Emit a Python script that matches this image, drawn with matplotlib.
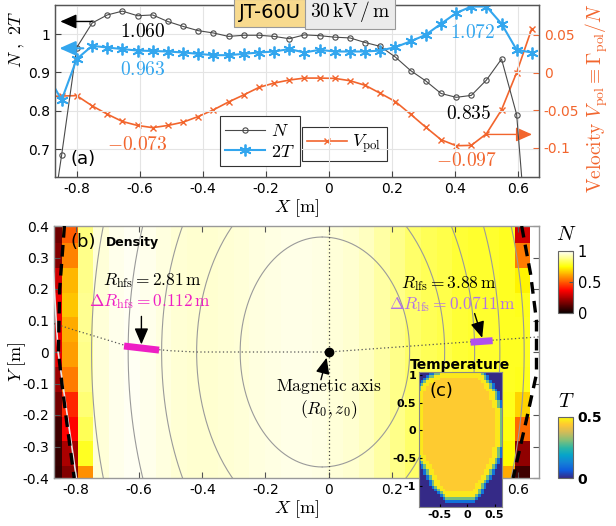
import numpy as np
import matplotlib
matplotlib.use("Agg")
import matplotlib.pyplot as plt
from matplotlib.colors import LinearSegmentedColormap, Normalize
from matplotlib.cm import ScalarMappable
from matplotlib.path import Path

plt.rcParams["font.family"] = ["DejaVu Sans"]
plt.rcParams["mathtext.fontset"] = "cm"
plt.rcParams["axes.unicode_minus"] = False

# ---------------- midplane profiles (panel a) ----------------
x_mid = [-0.897, -0.849, -0.801, -0.752, -0.704, -0.656, -0.608, -0.560, -0.512,
         -0.463, -0.415, -0.367, -0.319, -0.271, -0.222, -0.174, -0.126, -0.078,
         -0.030, 0.018, 0.067, 0.115, 0.163, 0.211, 0.259, 0.307, 0.356, 0.404,
         0.452, 0.500, 0.548, 0.596, 0.644]
dens_N = [0.42, 0.684, 0.965, 1.029, 1.050, 1.060, 1.048, 1.050, 1.033, 1.020,
          1.009, 1.003, 0.994, 0.997, 0.997, 0.994, 0.988, 0.998, 0.996, 0.992,
          0.990, 0.978, 0.968, 0.940, 0.905, 0.878, 0.845, 0.835, 0.840, 0.880,
          0.935, 0.790, 0.300]
temp_2T = [0.898, 0.828, 0.935, 0.9695, 0.965, 0.961, 0.957, 0.956, 0.9546, 0.952,
           0.9485, 0.945, 0.945, 0.9485, 0.952, 0.9546, 0.961, 0.952, 0.959, 0.9546,
           0.9546, 0.9546, 0.957, 0.966, 0.981, 0.998, 1.027, 1.055, 1.072, 1.072,
           1.027, 0.959, 0.952]
vel_pol = [-0.032, -0.031, -0.0305, -0.0441, -0.0551, -0.0648, -0.0701, -0.073,
           -0.0701, -0.0657, -0.0582, -0.0494, -0.0389, -0.0296, -0.0195, -0.0138,
           -0.0098, -0.0072, -0.0072, -0.0076, -0.0107, -0.0168, -0.0274, -0.0384,
           -0.0551, -0.0723, -0.089, -0.097, -0.0965, -0.0811, -0.0494, 0.0001, 0.0584]

# ---------------- density map (panel b) ----------------
col_edges = np.linspace(-0.894, 0.6394, 32)     # 31 cells in X
row_edges_top_down = np.linspace(0.424, -0.4406, 12)  # 11 cells in Y
dens_interior = [0.96, 0.98, 0.985, 0.98, 0.965, 0.955, 0.95, 0.95, 0.955, 0.96,
                 0.965, 0.97, 0.975, 0.975, 0.97, 0.96, 0.95, 0.935, 0.91, 0.88,
                 0.85, 0.83, 0.82, 0.80, 0.79, 0.79, 0.78]   # columns 3..29
# edge columns, rows listed top to bottom
dens_col0 = [0.15, 0.18, 0.30, 0.34, 0.34, 0.33, 0.22, 0.16, 0.08, 0.07, 0.06]
dens_col1 = [0.50, 0.56, 0.64, 0.66, 0.62, 0.60, 0.55, 0.42, 0.37, 0.24, 0.18]
dens_col2 = [0.87, 0.88, 0.88, 0.89, 0.89, 0.88, 0.88, 0.86, 0.83, 0.78, 0.58]
dens_col29 = [0.78, 0.78, 0.78, 0.78, 0.78, 0.78, 0.78, 0.77, 0.76, 0.74, 0.62]
dens_col30 = [0.30, 0.55, 0.73, 0.77, 0.78, 0.78, 0.77, 0.68, 0.52, 0.20, 0.08]

# flux surfaces: apex X, inboard / outboard half widths, half height
surf_x0 = [-0.02, -0.04, -0.06, -0.08, -0.10]
surf_aL = [0.260, 0.378, 0.469, 0.555, 0.651]
surf_aR = [0.277, 0.408, 0.523, 0.623, 0.720]
surf_b = [0.365, 0.56, 0.78, 1.00, 1.20]

# boundary traces
sepL_x = [-0.837, -0.852, -0.856, -0.845, -0.830, -0.806]
sepL_y = [0.40, 0.20, 0.00, -0.10, -0.22, -0.40]
wallL_x = [-0.872, -0.857, -0.828, -0.799]
wallL_y = [0.25, 0.00, -0.20, -0.40]
sepR_x = [0.612, 0.640, 0.659, 0.659, 0.627, 0.585]
sepR_y = [0.40, 0.25, 0.10, -0.07, -0.216, -0.40]
chord_x = [-0.87, -0.80, -0.72, -0.645, -0.59, -0.50, -0.42, 0.0, 0.667]
chord_y = [0.090, 0.068, 0.044, 0.021, 0.012, 0.004, 0.0, 0.0, 0.048]
hfs_bar_x = [-0.648, -0.537]
hfs_bar_y = [0.019, 0.006]
lfs_bar_x = [0.450, 0.520]
lfs_bar_y = [0.031, 0.036]

# ---------------- temperature map (panel c) ----------------
plasma_bx = [-0.50, 0.27, 0.42, 0.54, 0.60, 0.66, 0.66, 0.60, 0.54, 0.45, 0.33,
             0.24, 0.14, -0.40, -0.50, -0.65, -0.745, -0.84, -0.96, -0.96, -0.90,
             -0.72]
plasma_by = [1.08, 1.08, 0.85, 0.67, 0.49, 0.30, -0.20, -0.41, -0.59, -0.77, -0.95,
             -1.13, -1.25, -1.25, -1.13, -0.95, -0.77, -0.59, -0.41, 0.60, 0.80,
             0.95]
t_core, t_rim, t_edge, t_halo = 0.44, 0.475, 0.30, 0.10

# colours
c_N = "#4a4a4a"
c_T = "#33a6ee"
c_V = "#f2652d"
c_mag = "#ee1fc4"
c_pur = "#b050ee"

parula = LinearSegmentedColormap.from_list(
    "parula", ["#352a87", "#0f5cdd", "#1481d6", "#06a4ca", "#2eb7a4",
               "#87bf77", "#d1bb59", "#fec832", "#f9fb0e"])

W, H = 616, 526
fig = plt.figure(figsize=(W / 100, H / 100), dpi=100)


def box(x0, y0, x1, y1):
    return [x0 / W, 1 - y1 / H, (x1 - x0) / W, (y1 - y0) / H]


# ================= panel (a) =================
ax1 = fig.add_axes(box(55, 5, 539, 177))
axr = ax1.twinx()
ax1.set_zorder(axr.get_zorder() + 1)
ax1.patch.set_visible(False)

axr.plot(x_mid, vel_pol, "-", color=c_V, lw=1.2, marker="x", ms=5, mew=1.0,
         label=r"$V_{\rm pol}$")
lN, = ax1.plot(x_mid, dens_N, "-", color=c_N, lw=0.8, marker="o", ms=3.8,
               mfc="none", mew=0.8, label=r"$N$")
lT, = ax1.plot(x_mid, temp_2T, "-", color=c_T, lw=1.5, marker=(6, 2, 0), ms=8.5,
               mew=1.3, label=r"$2T$")

ax1.set_xlim(-0.87, 0.667)
ax1.set_ylim(0.627, 1.076)
axr.set_ylim(-0.1385, 0.0898)
ax1.set_xticks([-0.8, -0.6, -0.4, -0.2, 0, 0.2, 0.4, 0.6])
ax1.set_xticklabels(["-0.8", "-0.6", "-0.4", "-0.2", "0", "0.2", "0.4", "0.6"])
ax1.set_yticks([0.7, 0.8, 0.9, 1.0])
ax1.set_yticklabels(["0.7", "0.8", "0.9", "1"])
axr.set_yticks([-0.1, -0.05, 0, 0.05])
axr.set_yticklabels(["-0.1", "-0.05", "0", "0.05"])
ax1.grid(True, color="#e4e4e4", lw=0.8)
ax1.set_axisbelow(True)
ax1.tick_params(direction="in", labelsize=10, length=4, color="#444444")
axr.tick_params(direction="in", labelsize=10, length=4, colors=c_V)
for sp in list(ax1.spines.values()) + list(axr.spines.values()):
    sp.set_color("#555555")
    sp.set_linewidth(0.9)

ax1.set_xlabel(r"$X\ [\mathrm{m}]$", fontsize=13, labelpad=1)
ax1.set_ylabel(r"$N\ ,\ 2T$", fontsize=13)
ax1.yaxis.set_label_coords(-0.058, 0.80)
axr.set_ylabel(r"$\mathrm{Velocity}\ V_{\rm pol}\equiv\Gamma_{\rm pol}/N$",
               fontsize=14, color=c_V)
axr.yaxis.set_label_coords(1.091, 0.46)

head = "-|>,head_length=0.9,head_width=0.4"
ax1.annotate("", xy=(-0.853, 1.033), xytext=(-0.752, 1.033),
             arrowprops=dict(arrowstyle=head, color="black", lw=1.0,
                             mutation_scale=11, shrinkA=0, shrinkB=0))
ax1.annotate("", xy=(-0.856, 0.963), xytext=(-0.78, 0.963),
             arrowprops=dict(arrowstyle=head, color=c_T, lw=1.5,
                             mutation_scale=11, shrinkA=0, shrinkB=0))
axr.annotate("", xy=(0.645, -0.082), xytext=(0.50, -0.082),
             arrowprops=dict(arrowstyle=head, color=c_V, lw=1.0,
                             mutation_scale=11, shrinkA=0, shrinkB=0))

ax1.text(-0.592, 1.007, r"$1.060$", fontsize=14, ha="center", va="center")
ax1.text(-0.590, 0.907, r"$0.963$", fontsize=14, ha="center", va="center", color=c_T)
ax1.text(-0.608, 0.713, r"$-0.073$", fontsize=14, ha="center", va="center", color=c_V)
ax1.text(0.456, 1.003, r"$1.072$", fontsize=14, ha="center", va="center", color=c_T)
ax1.text(0.444, 0.793, r"$0.835$", fontsize=14, ha="center", va="center")
ax1.text(0.437, 0.669, r"$-0.097$", fontsize=14, ha="center", va="center", color=c_V)
ax1.text(-0.782, 0.674, "(a)", fontsize=13, ha="center", va="center")

leg1 = ax1.legend(handles=[lN, lT], loc="upper left", bbox_to_anchor=(0.341, 0.352),
                  fontsize=13, handlelength=2.2, borderpad=0.3, labelspacing=0.15,
                  handletextpad=0.3, fancybox=False, framealpha=1,
                  edgecolor="#333333", borderaxespad=0)
leg1.get_frame().set_linewidth(0.8)
leg2 = axr.legend(loc="upper left", bbox_to_anchor=(0.510, 0.291), fontsize=13,
                  handlelength=2.2, borderpad=0.3, handletextpad=0.3, fancybox=False,
                  framealpha=1, edgecolor="#333333", borderaxespad=0)
leg2.get_frame().set_linewidth(0.8)

fig.text(270 / W, 1 - 13 / H, "JT-60U", fontsize=14, ha="center", va="center",
         bbox=dict(boxstyle="square,pad=0.25", fc="#f8da8e", ec="#999999", lw=0.8))
fig.text(350 / W, 1 - 12 / H, r"$30\,\mathrm{kV}\,/\,\mathrm{m}$", fontsize=14,
         ha="center", va="center",
         bbox=dict(boxstyle="square,pad=0.25", fc="#ebebeb", ec="#999999", lw=0.8))

# ================= panel (b) =================
ax2 = fig.add_axes(box(54, 226, 539, 478))
ncol = len(col_edges) - 1
nrow = len(row_edges_top_down) - 1
dens = np.empty((nrow, ncol))
dens[:, 3:30] = np.array(dens_interior)[None, :]
dens[:, 0] = dens_col0
dens[:, 1] = dens_col1
dens[:, 2] = dens_col2
dens[:, 29] = dens_col29
dens[:, 30] = dens_col30
ax2.pcolormesh(col_edges, row_edges_top_down[::-1], dens[::-1], cmap="hot",
               vmin=0, vmax=1, zorder=0)

theta = np.linspace(-np.pi / 2, np.pi / 2, 200)
for x0, aL, aR, b in zip(surf_x0, surf_aL, surf_aR, surf_b):
    ax2.plot(x0 + aR * np.cos(theta), b * np.sin(theta), color="#9a9a9a", lw=0.8, zorder=2)
    ax2.plot(x0 - aL * np.cos(theta), b * np.sin(theta), color="#9a9a9a", lw=0.8, zorder=2)

ax2.plot(wallL_x, wallL_y, color="#e8e8e8", lw=1.2, zorder=3)
ax2.plot(sepL_x, sepL_y, color="black", lw=2.4, ls=(0, (3.5, 2.2)), zorder=4)
ax2.plot(sepR_x, sepR_y, color="black", lw=2.4, ls=(0, (3.5, 2.2)), zorder=4)
ax2.plot(chord_x, chord_y, color="#555555", lw=0.9, ls=(0, (1, 2)), zorder=3)
ax2.plot([0, 0], [-0.4, 0.4], color="#444444", lw=0.9, ls=(0, (1, 2)), zorder=3)
ax2.plot(hfs_bar_x, hfs_bar_y, color=c_mag, lw=5, solid_capstyle="butt", zorder=5)
ax2.plot(lfs_bar_x, lfs_bar_y, color=c_pur, lw=5, solid_capstyle="butt", zorder=5)
ax2.plot([0], [0], "o", color="black", ms=6, zorder=6)

arrow_kw = dict(arrowstyle="-|>,head_length=0.7,head_width=0.3", color="black",
                lw=1.0, mutation_scale=14, shrinkA=0, shrinkB=0)
ax2.annotate("", xy=(-0.593, 0.024), xytext=(-0.593, 0.113), arrowprops=arrow_kw, zorder=6)
ax2.annotate("", xy=(0.487, 0.045), xytext=(0.463, 0.122), arrowprops=arrow_kw, zorder=6)
ax2.annotate("", xy=(-0.006, -0.018), xytext=(-0.024, -0.088), arrowprops=arrow_kw, zorder=6)

ax2.text(-0.56, 0.228, r"$R_{\rm hfs}=2.81\,\mathrm{m}$", fontsize=12.5,
         ha="center", va="center", zorder=7)
ax2.text(-0.566, 0.159, r"$\Delta R_{\rm hfs}=0.112\,\mathrm{m}$", fontsize=12.5,
         ha="center", va="center", color=c_mag, zorder=7)
ax2.text(0.379, 0.217, r"$R_{\rm lfs}=3.88\,\mathrm{m}$", fontsize=12.5,
         ha="center", va="center", zorder=7)
ax2.text(0.392, 0.153, r"$\Delta R_{\rm lfs}=0.0711\,\mathrm{m}$", fontsize=12.5,
         ha="center", va="center", color="#b273e6", zorder=7)
ax2.text(0.0, -0.108, r"$\mathrm{Magnetic\ axis}$", fontsize=12.5, ha="center",
         va="center", zorder=7)
ax2.text(0.0, -0.182, r"$(R_0,z_0)$", fontsize=12.5, ha="center", va="center", zorder=7)
ax2.text(-0.778, 0.349, "(b)", fontsize=13, ha="center", va="center", zorder=7)
ax2.text(-0.706, 0.349, "Density", fontsize=9, fontweight="bold", ha="left",
         va="center", zorder=7)

ax2.set_xlim(-0.87, 0.667)
ax2.set_ylim(-0.4, 0.4)
ax2.set_xticks([-0.8, -0.6, -0.4, -0.2, 0, 0.2, 0.4, 0.6])
ax2.set_xticklabels(["-0.8", "-0.6", "-0.4", "-0.2", "0", "0.2", "0.4", "0.6"])
yt = [-0.4, -0.3, -0.2, -0.1, 0, 0.1, 0.2, 0.3, 0.4]
ax2.set_yticks(yt)
ax2.set_yticklabels(["-0.4", "-0.3", "-0.2", "-0.1", "0", "0.1", "0.2", "0.3", "0.4"])
ax2.tick_params(direction="in", labelsize=10, length=4, top=True, right=True,
                color="#555555")
for sp in ax2.spines.values():
    sp.set_color("#999999")
    sp.set_linewidth(1.0)
ax2.set_xlabel(r"$X\ [\mathrm{m}]$", fontsize=13, labelpad=1)
ax2.set_ylabel(r"$Y\ [\mathrm{m}]$", fontsize=13)
ax2.yaxis.set_label_coords(-0.054, 0.46)

# colour bars
caxN = fig.add_axes(box(558, 251, 573, 313))
cbN = fig.colorbar(ScalarMappable(Normalize(0, 1), "hot"), cax=caxN, ticks=[0, 0.5, 1])
cbN.ax.set_yticklabels(["0", "0.5", "1"])
cbN.ax.tick_params(labelsize=10.5, length=3, direction="in", color="#555555")
cbN.outline.set_edgecolor("#666666")
fig.text(566 / W, 1 - 234 / H, r"$N$", fontsize=15, ha="center", va="center")

caxT = fig.add_axes(box(558, 417, 573, 478))
cbT = fig.colorbar(ScalarMappable(Normalize(0, 0.5), parula), cax=caxT, ticks=[0, 0.5])
cbT.ax.set_yticklabels(["0", "0.5"], fontweight="bold")
cbT.ax.tick_params(labelsize=10, length=3, direction="in", color="#555555")
cbT.outline.set_edgecolor("#666666")
fig.text(566 / W, 1 - 401 / H, r"$T$", fontsize=15, ha="center", va="center")

# ================= panel (c) inset =================
axc = fig.add_axes(box(419, 372, 502, 507))
gx = np.arange(-1.025, 0.76, 0.05)
gy = np.arange(-1.425, 1.16, 0.05)
GX, GY = np.meshgrid(gx, gy)
inside = Path(np.column_stack([plasma_bx, plasma_by])).contains_points(
    np.column_stack([GX.ravel(), GY.ravel()])).reshape(GX.shape)


def erode(m):
    e = m.copy()
    e[1:, :] &= m[:-1, :]
    e[:-1, :] &= m[1:, :]
    e[:, 1:] &= m[:, :-1]
    e[:, :-1] &= m[:, 1:]
    return e


in1 = erode(inside)
in3 = erode(erode(in1))
halo = ~erode(~inside) & ~inside
Tmap = np.zeros(GX.shape)
Tmap[halo] = t_halo
Tmap[inside] = t_edge
Tmap[in1] = t_rim
Tmap[in3] = t_core
axc.pcolormesh(np.append(gx - 0.025, gx[-1] + 0.025), np.append(gy - 0.025, gy[-1] + 0.025),
               Tmap, cmap=parula, vmin=0, vmax=0.5)
axc.set_xlim(-0.88, 0.636)
axc.set_ylim(-1.38, 1.05)
axc.set_xticks([-0.5, 0, 0.5])
axc.set_xticklabels(["-0.5", "0", "0.5"])
axc.set_yticks([-1, -0.5, 0, 0.5, 1])
axc.set_yticklabels(["-1", "-0.5", "0", "0.5", "1"])
axc.tick_params(labelsize=8, length=2.5, direction="in", pad=2)
for lab in axc.get_xticklabels() + axc.get_yticklabels():
    lab.set_fontweight("bold")
for sp in axc.spines.values():
    sp.set_color("#888888")
axc.set_title("Temperature", fontsize=10, fontweight="bold", pad=2)
axc.text(-0.469, 0.70, "(c)", fontsize=13, ha="center", va="center")

fig.savefig("out.png", dpi=100)
